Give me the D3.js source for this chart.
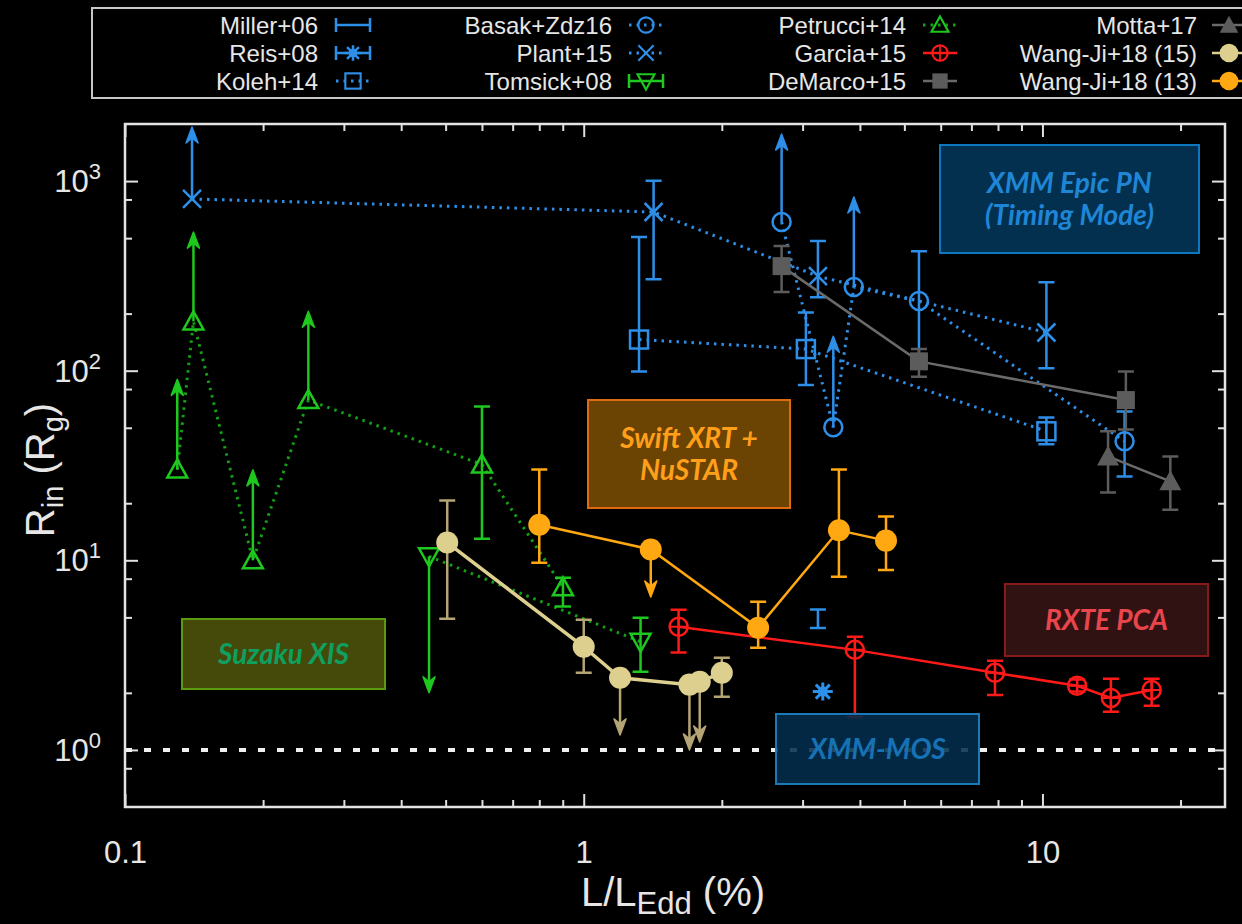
<!DOCTYPE html>
<html>
<head>
<meta charset="utf-8">
<script src="https://cdn.jsdelivr.net/npm/d3@7"></script>
<style>
  html, body { margin: 0; padding: 0; background: #000; }
  svg { display: block; }
  text { font-family: "Liberation Sans", Arial, sans-serif; fill: #e6e6e6; }
  .note { font-family: "Lato", "Open Sans", sans-serif; font-style: italic; font-weight: 700; }
</style>
</head>
<body>
<div id="chart"></div>
<script>
// ---- data (L/LEdd in %, Rin in Rg) ----
// lo/hi = error bar ends, lim = end of an upper/lower-limit arrow
const legendNames = ["Miller+06", "Reis+08", "Koleh+14", "Basak+Zdz16", "Plant+15", "Tomsick+08",
                     "Petrucci+14", "Garcia+15", "DeMarco+15", "Motta+17", "Wang-Ji+18 (15)", "Wang-Ji+18 (13)"];

const miller06 = [{x: 3.24, y: 5.0, lo: 4.4, hi: 5.5}];
const reis08 = [{x: 3.32, y: 2.03}];
const koleh14 = [{x: 1.32, y: 146, lo: 99, hi: 507}, {x: 3.05, y: 130, lo: 84, hi: 203},
                 {x: 10.2, y: 47.9, lo: 40.9, hi: 56.7}];
const basak16 = [{x: 2.70, y: 608, lim: 1770}, {x: 3.50, y: 50.3, lim: 152}, {x: 3.88, y: 276, lim: 824},
                 {x: 5.38, y: 233, lo: 115, hi: 427}, {x: 15.1, y: 42.4, lo: 27.7, hi: 61}];
const plant15 = [{x: 0.14, y: 805, lim: 1930}, {x: 1.42, y: 687, lo: 304, hi: 1003},
                 {x: 3.24, y: 315, lo: 244, hi: 483}, {x: 10.2, y: 159, lo: 103, hi: 293}];
const tomsick08 = [{x: 0.46, y: 10.5, lim: 2.0}, {x: 1.33, y: 3.72, lo: 2.58, hi: 4.98}];
const petrucci14 = [{x: 0.130, y: 30.1, lim: 90}, {x: 0.141, y: 182, lim: 538}, {x: 0.190, y: 10.0, lim: 30},
                    {x: 0.251, y: 70, lim: 206}, {x: 0.600, y: 32, lo: 13, hi: 64.8}, {x: 0.901, y: 7.2, lo: 5.7, hi: 8.1}];
const garcia15 = [{x: 1.61, y: 4.46, lo: 3.26, hi: 5.49}, {x: 3.90, y: 3.37, lo: 1.49, hi: 3.95},
                  {x: 7.88, y: 2.55, lo: 1.95, hi: 2.95}, {x: 11.9, y: 2.18, lo: 2.03, hi: 2.35},
                  {x: 14.1, y: 1.88, lo: 1.59, hi: 2.37}, {x: 17.3, y: 2.07, lo: 1.71, hi: 2.37}];
const demarco15 = [{x: 2.70, y: 356, lo: 260, hi: 454}, {x: 5.38, y: 112, lo: 93, hi: 130},
                   {x: 15.2, y: 70, lo: 49, hi: 99}];
const motta17 = [{x: 13.9, y: 35.3, lo: 22.8, hi: 47.9}, {x: 19.0, y: 26.1, lo: 18.5, hi: 35.3}];
const wangji15 = [{x: 0.504, y: 12.4, lo: 4.92, hi: 20.7}, {x: 1.00, y: 3.50, lo: 2.55, hi: 4.86},
                  {x: 1.20, y: 2.40, lim: 1.20}, {x: 1.70, y: 2.21, lim: 1.0}, {x: 1.79, y: 2.29, lim: 1.1},
                  {x: 2.00, y: 2.55, lo: 1.91, hi: 3.06}];
const wangji13 = [{x: 0.80, y: 15.4, lo: 9.7, hi: 30.1}, {x: 1.40, y: 11.4, lim: 6.4},
                  {x: 2.40, y: 4.41, lo: 3.46, hi: 6.05}, {x: 3.60, y: 14.4, lo: 8.2, hi: 30.1},
                  {x: 4.56, y: 12.7, lo: 8.9, hi: 17.0}];

const xMajor = [0.1, 1, 10];
const xLabels = ["0.1", "1", "10"];
const yMajor = [1, 10, 100, 1000];
const yExp = ["0", "1", "2", "3"];

// ---- styles, kept apart from the numbers ----
const BLUE = "#2e8fe8", GREEN = "#1ec81e", RED = "#ff1a1a", GRAY = "#5c5c5c",
      TAN = "#ddcf8e", ORANGE = "#ffa812";

const series = [
  {name: "Miller+06",   data: miller06,   color: BLUE,   marker: "none",     line: null},
  {name: "Reis+08",     data: reis08,     color: BLUE,   marker: "star",     line: null},
  {name: "Koleh+14",    data: koleh14,    color: BLUE,   marker: "sqOpen",   line: "dot"},
  {name: "Basak+Zdz16", data: basak16,    color: BLUE,   marker: "circOpen", line: "dot"},
  {name: "Plant+15",    data: plant15,    color: BLUE,   marker: "x",        line: "dot"},
  {name: "Tomsick+08",  data: tomsick08,  color: GREEN,  marker: "triDown",  line: "dot", lineColor: "#14a014"},
  {name: "Petrucci+14", data: petrucci14, color: GREEN,  marker: "triUp",    line: "dot", lineColor: "#14a014"},
  {name: "Garcia+15",   data: garcia15,   color: RED,    marker: "circPlus", line: "solid"},
  {name: "DeMarco+15",  data: demarco15,  color: GRAY,   marker: "sqFill",   line: "solid", lineColor: "#6a6a6a"},
  {name: "Motta+17",    data: motta17,    color: GRAY,   marker: "triFill",  line: "solid", lineColor: "#6a6a6a"},
  {name: "Wang-Ji+18 (15)", data: wangji15, color: TAN,  marker: "circFill", line: "solid", errColor: "#b5a575"},
  {name: "Wang-Ji+18 (13)", data: wangji13, color: ORANGE, marker: "circFill", line: "solid"}
];

const W = 1242, H = 924;
const plot = {left: 125, right: 1225, top: 124, bottom: 807};

const svg = d3.select("#chart").append("svg").attr("width", W).attr("height", H);
svg.append("rect").attr("width", W).attr("height", H).attr("fill", "#000");

const x = d3.scaleLog().domain([0.1, 25]).range([plot.left, plot.right]);
const y = d3.scaleLog().domain([0.5, 2000]).range([plot.bottom, plot.top]);

// ---- axes: ticks on all four sides, pointing inward ----
const xMinor = [];
[0.1, 1, 10].forEach(d => { for (let k = 2; k <= 9; k++) if (d * k <= 25) xMinor.push(d * k); });
const yMinor = [0.8];
[1, 10, 100, 1000].forEach(d => [2, 5, 8].forEach(k => { if (d * k < 2000) yMinor.push(d * k); }));

function styleAxis(g) {
  g.select(".domain").remove();
  g.selectAll("line").attr("stroke", "#e0e0e0").attr("stroke-width", 2);
}
const axes = svg.append("g");
axes.append("g").attr("transform", `translate(0,${plot.bottom})`)
  .call(d3.axisBottom(x).tickValues(xMinor).tickSize(-7).tickFormat("")).call(styleAxis);
axes.append("g").attr("transform", `translate(0,${plot.top})`)
  .call(d3.axisTop(x).tickValues(xMinor).tickSize(-7).tickFormat("")).call(styleAxis);
axes.append("g").attr("transform", `translate(0,${plot.top})`)
  .call(d3.axisTop(x).tickValues(xMajor).tickSize(-13).tickFormat("")).call(styleAxis);
axes.append("g").attr("transform", `translate(${plot.left},0)`)
  .call(d3.axisLeft(y).tickValues(yMinor).tickSize(-7).tickFormat("")).call(styleAxis);
axes.append("g").attr("transform", `translate(${plot.left},0)`)
  .call(d3.axisLeft(y).tickValues(yMajor).tickSize(-13).tickFormat("")).call(styleAxis);
axes.append("g").attr("transform", `translate(${plot.right},0)`)
  .call(d3.axisRight(y).tickValues(yMinor).tickSize(-7).tickFormat("")).call(styleAxis);
axes.append("g").attr("transform", `translate(${plot.right},0)`)
  .call(d3.axisRight(y).tickValues(yMajor).tickSize(-13).tickFormat("")).call(styleAxis);

const xAx = axes.append("g").attr("transform", `translate(0,${plot.bottom})`)
  .call(d3.axisBottom(x).tickValues(xMajor).tickSize(-13).tickPadding(34)
        .tickFormat((d, i) => xLabels[i]))
  .call(styleAxis);
xAx.selectAll("text").attr("fill", "#e6e6e6").style("font-size", "31px")
  .style("font-family", "Liberation Sans, Arial, sans-serif");

// y tick labels 10^n
const yl = axes.append("g");
yMajor.forEach((v, i) => {
  const t = yl.append("text").attr("x", 101).attr("y", y(v) + 11).attr("text-anchor", "end")
    .style("font-size", "31px");
  t.append("tspan").text("10");
  t.append("tspan").attr("dy", -13).style("font-size", "22px").text(yExp[i]);
});

// axis titles
const xt = svg.append("text").attr("x", (plot.left + plot.right) / 2 - 2).attr("y", 906)
  .attr("text-anchor", "middle").style("font-size", "40px");
xt.append("tspan").text("L/L");
xt.append("tspan").attr("dy", 8).style("font-size", "31px").text("Edd");
xt.append("tspan").attr("dy", -8).text(" (%)");

const yt = svg.append("text").attr("transform", "translate(54,470) rotate(-90)")
  .attr("text-anchor", "middle").style("font-size", "40px");
yt.append("tspan").text("R");
yt.append("tspan").attr("dy", 9).style("font-size", "29px").text("in");
yt.append("tspan").attr("dy", -9).text(" (R");
yt.append("tspan").attr("dy", 9).style("font-size", "29px").text("g");
yt.append("tspan").attr("dy", -9).text(")");

// ---- markers ----
function drawMarker(g, type, cx, cy, color, s = 1) {
  const m = g.append("g").attr("transform", `translate(${cx},${cy}) scale(${s})`);
  const sw = 2.5;
  switch (type) {
    case "sqOpen":
      m.append("rect").attr("x", -9).attr("y", -9).attr("width", 18).attr("height", 18)
        .attr("fill", "none").attr("stroke", color).attr("stroke-width", sw); break;
    case "circOpen":
      m.append("circle").attr("r", 9).attr("fill", "none").attr("stroke", color).attr("stroke-width", sw); break;
    case "x":
      m.append("path").attr("d", "M-9,-9L9,9M-9,9L9,-9").attr("stroke", color).attr("stroke-width", sw); break;
    case "star":
      m.append("path").attr("d", "M-10,0L10,0M0,-9L0,9M-7,-7L7,7M-7,7L7,-7")
        .attr("stroke", color).attr("stroke-width", 3);
      m.append("circle").attr("r", 5).attr("fill", color); break;
    case "triUp":
      m.append("path").attr("d", "M0,-10L10,8L-10,8Z").attr("fill", "none")
        .attr("stroke", color).attr("stroke-width", sw); break;
    case "triDown":
      m.append("path").attr("d", "M0,10L10,-8L-10,-8Z").attr("fill", "none")
        .attr("stroke", color).attr("stroke-width", sw); break;
    case "circPlus":
      m.append("circle").attr("r", 9).attr("fill", "none").attr("stroke", color).attr("stroke-width", sw);
      m.append("path").attr("d", "M-9,0L9,0M0,-9L0,9").attr("stroke", color).attr("stroke-width", 2); break;
    case "sqFill":
      m.append("rect").attr("x", -9).attr("y", -9).attr("width", 18).attr("height", 18).attr("fill", color); break;
    case "triFill":
      m.append("path").attr("d", "M0,-11L11,9L-11,9Z").attr("fill", color); break;
    case "circFill":
      m.append("circle").attr("r", 11).attr("fill", color); break;
  }
}

function arrowHead(g, px, py, dir, color) {
  // dir = -1 points up, +1 points down
  g.append("path")
    .attr("d", `M${px},${py}L${px - 6},${py - dir * 16}L${px},${py - dir * 11}L${px + 6},${py - dir * 16}Z`)
    .attr("fill", color).attr("stroke", color).attr("stroke-width", 1.5).attr("stroke-linejoin", "round");
}

// dashed reference line at Rin = 1
svg.append("line").attr("x1", plot.left).attr("x2", plot.right)
  .attr("y1", y(1)).attr("y2", y(1))
  .attr("stroke", "#f0f0f0").attr("stroke-width", 4).attr("stroke-dasharray", "7,12");

// ---- data layer ----
const dataG = svg.append("g");
const lineGen = d3.line().x(d => x(d.x)).y(d => y(d.y));

series.forEach(s => {
  const g = dataG.append("g");
  if (s.line && s.data.length > 1) {
    g.append("path").datum(s.data).attr("d", lineGen).attr("fill", "none")
      .attr("stroke", s.lineColor || s.color)
      .attr("stroke-width", s.line === "dot" ? 3 : (s.color === TAN ? 3.5 : 2.5))
      .attr("stroke-dasharray", s.line === "dot" ? "2.5,5" : null)
      .attr("stroke-linecap", "butt");
  }
  const ec = s.errColor || s.color;
  s.data.forEach(d => {
    const px = x(d.x);
    if (d.lo !== undefined) {
      g.append("path")
        .attr("d", `M${px},${y(d.lo)}L${px},${y(d.hi)}M${px - 8},${y(d.lo)}L${px + 8},${y(d.lo)}M${px - 8},${y(d.hi)}L${px + 8},${y(d.hi)}`)
        .attr("stroke", ec).attr("stroke-width", 2.5).attr("fill", "none");
    }
    if (d.lim !== undefined) {
      const dir = d.lim > d.y ? -1 : 1;
      g.append("line").attr("x1", px).attr("x2", px).attr("y1", y(d.y)).attr("y2", y(d.lim) - dir * 10)
        .attr("stroke", ec).attr("stroke-width", 2.5);
      arrowHead(g, px, y(d.lim), dir, ec);
    }
    drawMarker(g, s.marker, px, y(d.y), s.color);
  });
});

// ---- instrument boxes ----
const notes = [
  {lines: ["XMM Epic PN", "(Timing Mode)"], x0: 940, y0: 145, x1: 1199, y1: 253,
   fill: "#03304f", stroke: "#0c78c0", color: "#1f86d6"},
  {lines: ["Swift XRT +", "NuSTAR"], x0: 588, y0: 400, x1: 790, y1: 508,
   fill: "#6b4302", stroke: "#e06a10", color: "#ff9f1a"},
  {lines: ["RXTE PCA"], x0: 1005, y0: 584, x1: 1208, y1: 656,
   fill: "#311212", stroke: "#8a1a1a", color: "#e8454c"},
  {lines: ["XMM-MOS"], x0: 776, y0: 714, x1: 979, y1: 784,
   fill: "#032e4c", stroke: "#1a7ab8", color: "#1672b4", opacity: 0.88},
  {lines: ["Suzaku XIS"], x0: 182, y0: 619, x1: 385, y1: 689,
   fill: "#454a0a", stroke: "#5a9c10", color: "#0ea060"}
];
notes.forEach(n => {
  const g = svg.append("g");
  g.append("rect").attr("x", n.x0).attr("y", n.y0).attr("width", n.x1 - n.x0).attr("height", n.y1 - n.y0)
    .attr("fill", n.fill).attr("fill-opacity", n.opacity || 1)
    .attr("stroke", n.stroke).attr("stroke-width", 2);
  const cx = (n.x0 + n.x1) / 2, cy = (n.y0 + n.y1) / 2;
  const lh = 32, top = cy - (n.lines.length - 1) * lh / 2;
  n.lines.forEach((t, i) => {
    g.append("text").attr("class", "note").attr("x", cx).attr("y", top + i * lh + 10)
      .attr("text-anchor", "middle").style("font-size", "28px").style("fill", n.color).text(t);
  });
});

// frame
svg.append("rect").attr("x", plot.left).attr("y", plot.top)
  .attr("width", plot.right - plot.left).attr("height", plot.bottom - plot.top)
  .attr("fill", "none").attr("stroke", "#e4e4e4").attr("stroke-width", 2.5);

// ---- legend ----
const leg = svg.append("g");
leg.append("rect").attr("x", 92).attr("y", 8).attr("width", 1170).attr("height", 90)
  .attr("fill", "#000").attr("stroke", "#c8c8c8").attr("stroke-width", 2);
const colText = [318, 612, 906, 1197], colSym = [353, 646, 940, 1229], rowY = [25, 53, 81];
series.forEach((s, i) => {
  const c = Math.floor(i / 3), r = i % 3;
  const ty = rowY[r], sx = colSym[c];
  leg.append("text").attr("x", colText[c]).attr("y", ty + 9).attr("text-anchor", "end")
    .style("font-size", "24px").text(legendNames[i]);
  const g = leg.append("g");
  if (s.marker === "none" || s.marker === "star" || s.marker === "triDown") {
    g.append("path").attr("d", `M${sx - 17},${ty}L${sx + 17},${ty}M${sx - 17},${ty - 7}L${sx - 17},${ty + 7}M${sx + 17},${ty - 7}L${sx + 17},${ty + 7}`)
      .attr("stroke", s.color).attr("stroke-width", 2.5);
  } else if (s.line) {
    g.append("line").attr("x1", sx - 17).attr("x2", sx + 17).attr("y1", ty).attr("y2", ty)
      .attr("stroke", s.lineColor || s.color).attr("stroke-width", s.line === "dot" ? 3 : 2.5)
      .attr("stroke-dasharray", s.line === "dot" ? "2.5,5" : null);
  }
  if (s.marker !== "none") drawMarker(g, s.marker, sx, ty, s.color, 0.85);
});
</script>
</body>
</html>
